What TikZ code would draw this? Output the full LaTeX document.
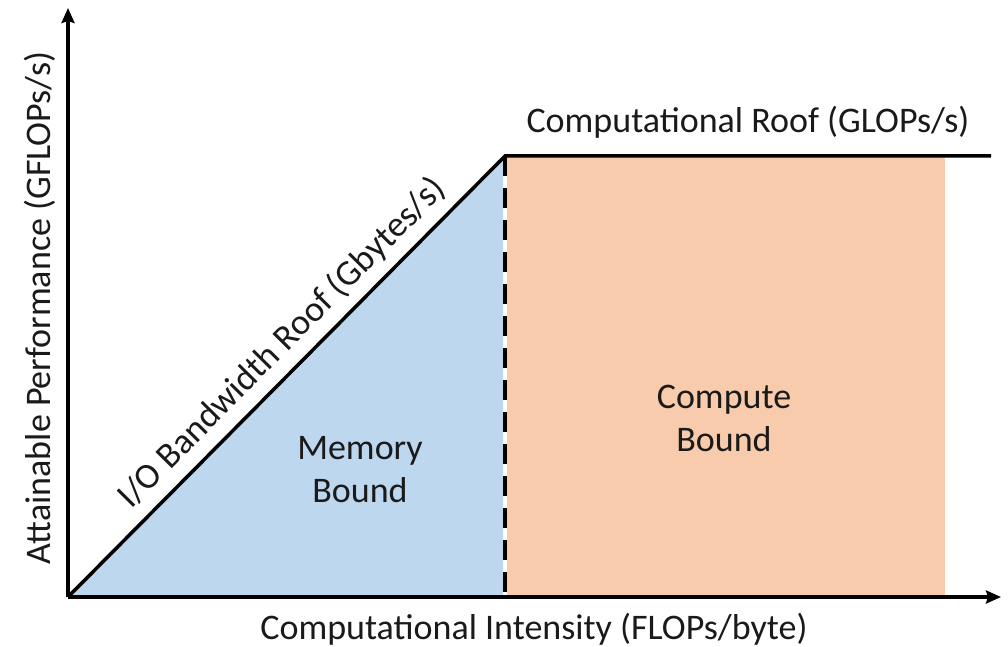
\documentclass[tikz,border=0pt]{standalone}
\usepackage{fontspec}
\setmainfont{Carlito}
\usetikzlibrary{arrows.meta}
\definecolor{membound}{HTML}{BDD7EE}
\definecolor{cmpbound}{HTML}{F8CBAD}
\definecolor{labeltext}{HTML}{1A1A1A}
\tikzset{
  axisline/.style={line width=3.5pt, -{Stealth[length=15pt,width=13pt,inset=2pt]}},
  roofline/.style={line width=3.5pt, line join=miter},
  ridge/.style={line width=3.5pt, dash pattern=on 20pt off 12pt},
  lbl/.style={font=\fontsize{36}{43}\selectfont, text=labeltext, inner sep=0pt, align=center}
}
\begin{document}
\begin{tikzpicture}[x=1pt,y=-1pt]
\useasboundingbox (0,0) rectangle (1008,647);
% key points
\coordinate (O) at (68,597);
\coordinate (ytop) at (68,8);
\coordinate (xend) at (1001,597);
\coordinate (knee) at (505,156);
\coordinate (kneebase) at (505,597);
\coordinate (roofend) at (991,156);
% shaded regions
\fill[membound] (O) -- (503,156) -- (503,597) -- cycle;
\fill[cmpbound] (507,156) rectangle (945,597);
% ridge point
\draw[ridge] (knee) -- (kneebase);
% roofs
\draw[roofline] (O) -- (knee) -- (roofend);
% axes
\draw[axisline] (O) -- (ytop);
\draw[axisline] (O) -- (xend);
% labels
\node[lbl] (croof) at (748,122) {Computational Roof (GLOPs/s)};
\node[lbl] (xlab) at (534,629) {Computational Intensity (FLOPs/byte)};
\node[lbl, rotate=90] (ylab) at (40,308) {Attainable Performance (GFLOPs/s)};
\node[lbl, rotate=45.3] (bwroof) at (282,343) {I/O Bandwidth Roof (Gbytes/s)};
\node[lbl] (mem) at (360,470) {Memory\\Bound};
\node[lbl] (cmp) at (724,418) {Compute\\Bound};
\end{tikzpicture}
\end{document}
